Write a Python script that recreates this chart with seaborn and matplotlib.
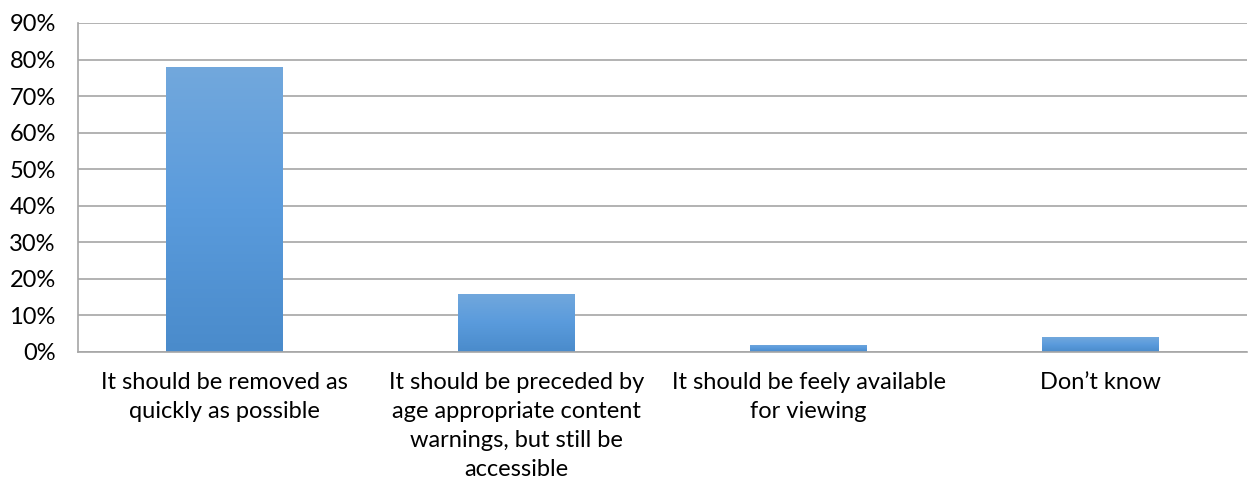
import numpy as np
import pandas as pd
import matplotlib
matplotlib.use("Agg")
import matplotlib.pyplot as plt
import seaborn as sns
from matplotlib.colors import LinearSegmentedColormap

categories = [
    "It should be removed as\nquickly as possible",
    "It should be preceded by\nage appropriate content\nwarnings, but still be\naccessible",
    "It should be feely available\nfor viewing",
    "Don\u2019t know",
]
values = [78, 16, 2, 4]
yticks = [0, 10, 20, 30, 40, 50, 60, 70, 80, 90]

sns.set_style("white")
plt.rcParams["font.family"] = ["Lato", "DejaVu Sans"]

df = pd.DataFrame({"answer": categories, "pct": values})

fig = plt.figure(figsize=(12.48, 4.8), dpi=100)
ax = fig.add_axes([78 / 1248, 1 - 352 / 480, (1247 - 78) / 1248, (352 - 23) / 480])

sns.barplot(data=df, x="answer", y="pct", color="#5b9bd5", width=0.4, ax=ax,
            saturation=1, zorder=3)

# gradient fill for each bar (light on top, darker at bottom)
cmap = LinearSegmentedColormap.from_list("bar", ["#4a8bcb", "#5a9bdc", "#72a8dd"])
grad = np.linspace(0, 1, 256).reshape(-1, 1)
for p in ax.patches:
    x0, y0 = p.get_x(), p.get_y()
    w, h = p.get_width(), p.get_height()
    im = ax.imshow(grad, cmap=cmap, origin="lower", aspect="auto",
                   extent=[x0, x0 + w, y0, y0 + h], zorder=4)
    im.set_clip_path(p)
    p.set_facecolor("none")
    p.set_edgecolor("none")
ax.set_xlim(-0.5, len(categories) - 0.5)
ax.set_ylim(0, 90)

ax.set_yticks(yticks)
ax.set_yticklabels([f"{v}%" for v in yticks])
ax.yaxis.grid(True, color="#a6a6a6", linewidth=1.2, zorder=0)
ax.set_axisbelow(True)

ax.set_xticks(range(len(categories)))
ax.set_xticklabels(categories, linespacing=1.47, va="top")
ax.set_xticks(np.arange(-0.5, len(categories)), minor=True)
ax.tick_params(axis="x", which="major", length=0, pad=14.5, labelsize=17, colors="#000000")
ax.tick_params(axis="x", which="minor", length=7, width=1.2, color="#a6a6a6", direction="out")
ax.tick_params(axis="y", length=0, pad=16, labelsize=17, colors="#000000")

for s in ["top", "right"]:
    ax.spines[s].set_visible(False)
ax.spines["left"].set_color("#a6a6a6")
ax.spines["left"].set_linewidth(1.2)
ax.spines["bottom"].set_color("#a6a6a6")
ax.spines["bottom"].set_linewidth(1.2)
ax.spines["bottom"].set_zorder(5)

ax.set_xlabel("")
ax.set_ylabel("")

fig.savefig("out.png", dpi=100)
